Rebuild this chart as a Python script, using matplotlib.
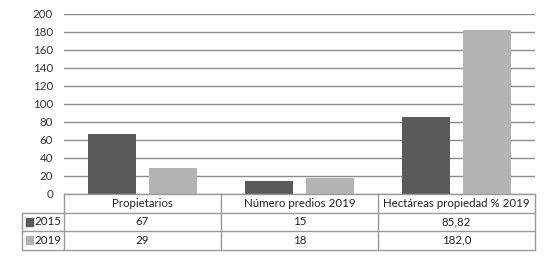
import matplotlib
matplotlib.use("Agg")
import matplotlib.pyplot as plt
import numpy as np
from matplotlib.patches import Rectangle

categories = ["Propietarios", "Número predios 2019", "Hectáreas propiedad % 2019"]
series_names = ["2015", "2019"]
vals_2015 = [67, 15, 85.82]
vals_2019 = [29, 18, 182.0]
labels_2015 = ["67", "15", "85,82"]
labels_2019 = ["29", "18", "182,0"]
yticks = [0, 20, 40, 60, 80, 100, 120, 140, 160, 180, 200]

DARK, LIGHT = "#5a5a5a", "#b4b4b4"
GRID, LINE = "#8c8c8c", "#9a9a9a"
plt.rcParams["font.family"] = ["Lato", "DejaVu Sans"]

fig = plt.figure(figsize=(5.5, 2.58), dpi=100)
ax = fig.add_axes([64 / 550, 1 - 194 / 258, 471 / 550, 180 / 258])

x = np.arange(len(categories))
w, gap = 0.31, 0.077
ax.bar(x - (w + gap) / 2, vals_2015, w, color=DARK, zorder=2)
ax.bar(x + (w + gap) / 2, vals_2019, w, color=LIGHT, zorder=2)

ax.set_xlim(-0.5, len(categories) - 0.5)
ax.set_ylim(0, 200)
ax.set_yticks(yticks)
ax.set_xticks([])
ax.yaxis.grid(True, color=GRID, lw=1)
ax.set_axisbelow(True)
ax.tick_params(axis="y", length=0, pad=8, labelsize=8.3, labelcolor="#333333")
for s in ax.spines.values():
    s.set_visible(False)

# data table under the plot
tr = ax.get_xaxis_transform()
rh = 18.5 / 180
left = -0.5 - (42 / 471) * 3
edges = np.arange(len(categories) + 1) - 0.5
kw = dict(transform=tr, clip_on=False, color=LINE, lw=1)
ax.plot([edges[0], edges[-1]], [0, 0], **kw)
for i in range(1, 4):
    ax.plot([left, edges[-1]], [-i * rh, -i * rh], **kw)
ax.plot([left, left], [-rh, -3 * rh], **kw)
for e in edges:
    ax.plot([e, e], [0, -3 * rh], **kw)

tk = dict(transform=tr, ha="center", va="center", fontsize=8.3, color="#222222", clip_on=False)
for i, c in enumerate(categories):
    ax.text(i, -0.5 * rh, c, **tk)
    ax.text(i, -1.5 * rh, labels_2015[i], **tk)
    ax.text(i, -2.5 * rh, labels_2019[i], **tk)

for j, (name, col) in enumerate(zip(series_names, [DARK, LIGHT])):
    yc = -(1.5 + j) * rh
    ax.add_patch(Rectangle((left + 0.028, yc - 0.022), 0.04, 0.044, color=col,
                           transform=tr, clip_on=False))
    ax.text(left + 0.08, yc, name, transform=tr, ha="left", va="center",
            fontsize=8.3, color="#222222", clip_on=False)

fig.savefig("out.png", dpi=100)
